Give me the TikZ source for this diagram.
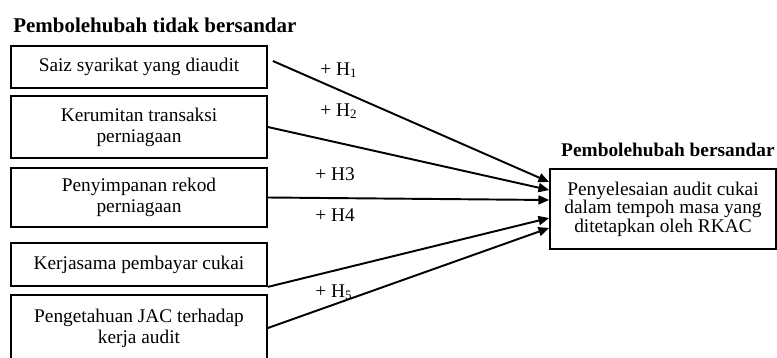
\documentclass[tikz,border=0pt]{standalone}
\usepackage{fontspec}
\setmainfont{Liberation Serif}
\usetikzlibrary{arrows.meta}

\begin{document}
\begin{tikzpicture}[x=0.62pt, y=-0.62pt,
		varbox/.style = {draw, line width=1.1pt, inner sep=0pt, align=center, font=\fontsize{12}{13}\selectfont},
		leftvar/.style = {varbox, minimum width=158.72pt},
		hyplabel/.style = {anchor=base west, inner sep=0pt, font=\fontsize{12}{13}\selectfont},
		hyparrow/.style = {line width=1.2pt, -{Triangle[length=6.6pt, width=5.6pt]}}]
		\path[use as bounding box, clip] (0,0) rectangle (777,358);

		\node[anchor=base west, inner sep=0pt, font=\fontsize{13}{14}\selectfont\bfseries] (indeptitle) at (13,32) {Pembolehubah tidak bersandar};
		\node[anchor=base east, inner sep=0pt, font=\fontsize{12}{13}\selectfont\bfseries] (deptitle) at (775,156) {Pembolehubah bersandar};

		\node[leftvar, minimum height=26.04pt] (saiz) at (139,67) {Saiz syarikat yang diaudit};
		\node[leftvar, minimum height=38.44pt] (kerumitan) at (139,127) {Kerumitan transaksi\\perniagaan};
		\node[leftvar, minimum height=36.58pt] (rekod) at (139,197.5) {Penyimpanan rekod\\perniagaan};
		\node[leftvar, minimum height=26.66pt] (kerjasama) at (139,264.5) {Kerjasama pembayar cukai};
		\node[leftvar, minimum height=40.92pt] (pengetahuan) at (139,328) {Pengetahuan JAC terhadap\\kerja audit};

		\node[varbox, minimum width=140.12pt, minimum height=49.6pt, font=\fontsize{12}{11.4}\selectfont] (audit) at (663,209) {Penyelesaian audit cukai\\dalam tempoh masa yang\\ditetapkan oleh RKAC};

		\node[hyplabel] (h1) at (320,75) {+ H\textsubscript{1}};
		\node[hyplabel] (h2) at (320,116) {+ H\textsubscript{2}};
		\node[hyplabel] (h3) at (315,180) {+ H3};
		\node[hyplabel] (h4) at (315,221) {+ H4};
		\node[hyplabel] (h5) at (315,297) {+ H\textsubscript{5}};

		\draw[hyparrow] ([xshift=3.1pt, yshift=3.72pt]saiz.east) -- ([yshift=16.74pt]audit.west);
		\draw[hyparrow] (kerumitan.east) -- ([yshift=11.78pt]audit.west);
		\draw[hyparrow] (rekod.east) -- ([yshift=5.58pt]audit.west);
		\draw[hyparrow] (kerjasama.south east) -- ([yshift=-5.58pt]audit.west);
		\draw[hyparrow] (pengetahuan.east) -- ([yshift=-11.78pt]audit.west);
\end{tikzpicture}
\end{document}
